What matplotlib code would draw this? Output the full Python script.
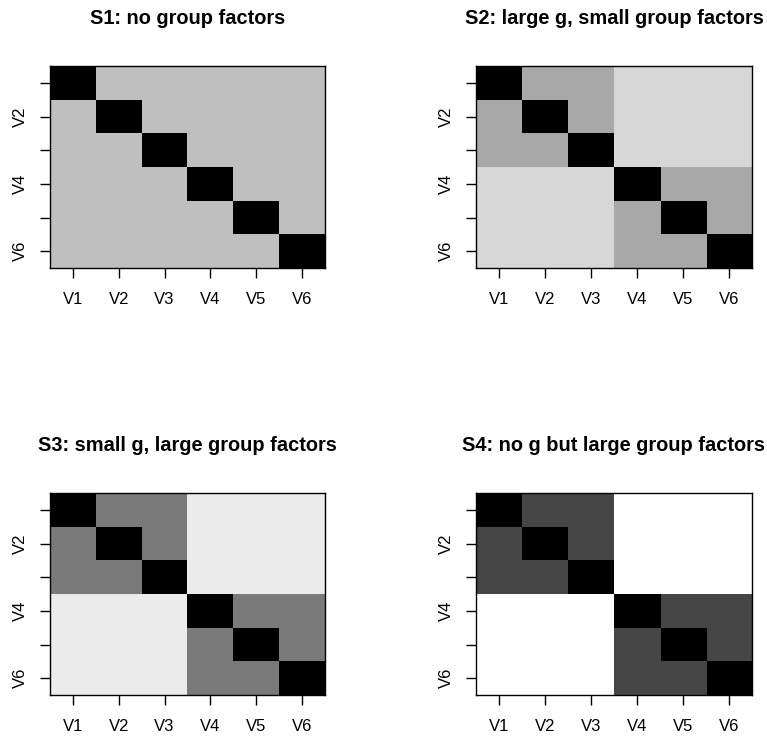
import matplotlib
matplotlib.use("Agg")
import matplotlib.pyplot as plt
import numpy as np

plt.rcParams['font.family'] = ['Liberation Sans', 'DejaVu Sans']

variables = ['V1', 'V2', 'V3', 'V4', 'V5', 'V6']
groups = [0, 0, 0, 1, 1, 1]

titles = [
    'S1: no group factors',
    'S2: large g, small group factors',
    'S3: small g, large group factors',
    'S4: no g but large group factors',
]
# correlation within a group and between groups, per scenario
within_r = [0.25, 0.34, 0.52, 0.73]
between_r = [0.25, 0.16, 0.08, 0.0]


def build_matrix(w, b):
    n = len(variables)
    m = np.empty((n, n))
    for i in range(n):
        for j in range(n):
            if i == j:
                m[i, j] = 1.0
            elif groups[i] == groups[j]:
                m[i, j] = w
            else:
                m[i, j] = b
    return m


fig = plt.figure(figsize=(7.67, 7.36), dpi=100)
W, H = 767.0, 736.0
# panel boxes in pixels: left, top, right, bottom
boxes = [(50, 66, 325, 268), (476, 66, 752, 268),
         (50, 493, 325, 695), (476, 493, 752, 695)]

for k, (l, t, r, b) in enumerate(boxes):
    ax = fig.add_axes([l / W, 1 - b / H, (r - l) / W, (b - t) / H])
    mat = build_matrix(within_r[k], between_r[k])
    ax.imshow(mat, cmap='gray_r', vmin=0, vmax=1, aspect='auto',
              interpolation='nearest')
    ax.set_xticks(range(len(variables)))
    ax.set_xticklabels(variables, fontsize=12)
    ax.set_yticks(range(len(variables)))
    ax.set_yticklabels([v if i % 2 == 1 else '' for i, v in enumerate(variables)],
                       rotation=90, va='center', fontsize=12)
    ax.tick_params(axis='x', length=7, width=1, pad=10)
    ax.tick_params(axis='y', length=7, width=1, pad=9)
    for s in ax.spines.values():
        s.set_linewidth(1.0)
    cx = (l + r) / 2.0
    fig.text(cx / W, 1 - (t - 48) / H, titles[k], ha='center', va='center',
             fontsize=14.4, fontweight='bold')

fig.savefig('out.png', dpi=100)
